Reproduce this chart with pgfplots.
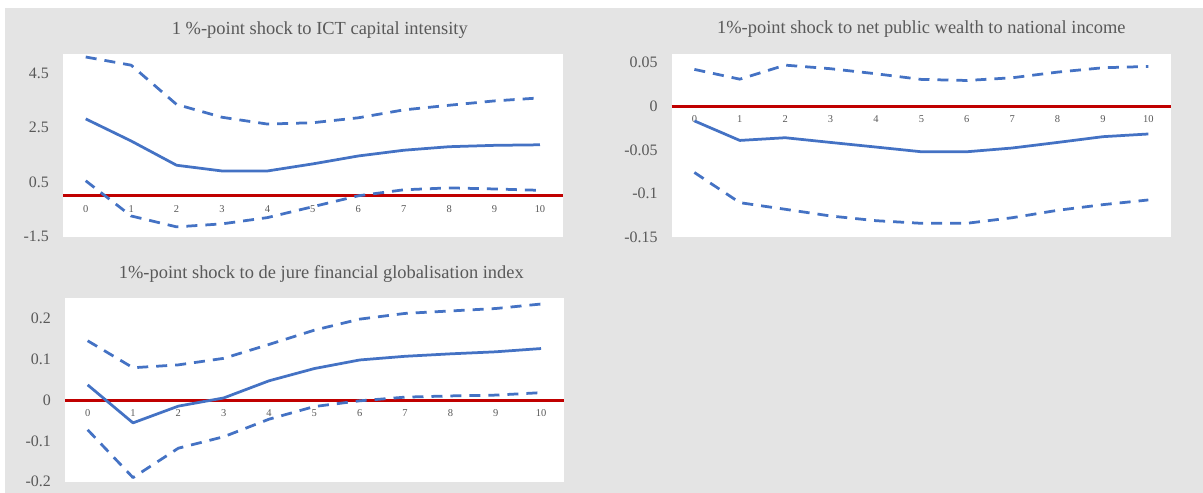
\documentclass[border=0pt]{standalone}
\usepackage{pgfplots}
\pgfplotsset{compat=1.18}
\usepackage{fontspec}
\setmainfont{Liberation Serif}
\definecolor{bg}{RGB}{228,228,228}
\definecolor{txt}{RGB}{89,89,89}
\definecolor{ublue}{RGB}{68,114,196}
\definecolor{ured}{RGB}{192,0,0}
\pgfplotsset{irf/.style={
  scale only axis,
  xmin=-0.5, xmax=10.5,
  axis x line=middle, axis y line=left,
  x axis line style={-, draw=ured, line width=3bp},
  y axis line style={draw=none},
  axis background/.style={fill=white, draw=none},
  xtick={0,...,10},
  xticklabels={0,1,2,3,4,5,6,7,8,9,10},
  major tick length=0pt,
  tick style={draw=none},
  hide obscured x ticks=false, hide obscured y ticks=false,
  xticklabel style={font=\fontsize{10.5}{12}\selectfont, text=txt, anchor=center, yshift=-13bp},
  yticklabel style={font=\fontsize{16}{18}\selectfont, text=txt, anchor=east, inner sep=0pt, xshift=-14bp},
  title style={font=\fontsize{18.5}{22}\selectfont, text=txt, anchor=center, at={(0.5,1)}, yshift=18bp},
  est/.style={ublue, solid, no markers, line width=2.75bp, line join=round},
  ci/.style={ublue, no markers, line width=2.75bp, line join=round, dash pattern=on 11bp off 8bp},
}}
\begin{document}
\begin{tikzpicture}[x=1bp,y=1bp]
\fill[white] (0,0) rectangle (1203,493);
\fill[bg] (5,0) rectangle (1203,485);

% Panel 1
\begin{axis}[irf, at={(63bp,256.3bp)}, anchor=south west,
  width=499.7bp, height=182.7bp,
  ymin=-1.5, ymax=5.2,
  ytick={-1.5,0.5,2.5,4.5}, yticklabels={{-1.5},{0.5},{2.5},{4.5}},
  title={1 \%-point shock to ICT capital intensity},
  title style={xshift=7bp}]
\addplot[est] coordinates {(0,2.82)(1,2.01)(2,1.12)(3,0.91)(4,0.91)(5,1.17)(6,1.46)(7,1.67)(8,1.80)(9,1.85)(10,1.87)};
\addplot[ci] coordinates {(0,5.09)(1,4.79)(2,3.35)(3,2.88)(4,2.63)(5,2.68)(6,2.86)(7,3.15)(8,3.32)(9,3.48)(10,3.59)};
\addplot[ci] coordinates {(0,0.55)(1,-0.74)(2,-1.14)(3,-1.03)(4,-0.80)(5,-0.40)(6,0.0)(7,0.22)(8,0.29)(9,0.25)(10,0.20)};
\end{axis}

% Panel 2
\begin{axis}[irf, at={(671.7bp,256bp)}, anchor=south west,
  width=499.3bp, height=183bp,
  ymin=-0.15, ymax=0.06,
  ytick={-0.15,-0.1,-0.05,0,0.05}, yticklabels={{-0.15},{-0.1},{-0.05},{0},{0.05}},
  title={1\%-point shock to net public wealth to national income},
  title style={yshift=1bp}]
\addplot[est] coordinates {(0,-0.0168)(1,-0.0392)(2,-0.0361)(3,-0.0415)(4,-0.0468)(5,-0.0522)(6,-0.0522)(7,-0.0479)(8,-0.0415)(9,-0.0349)(10,-0.0318)};
\addplot[ci] coordinates {(0,0.0423)(1,0.0311)(2,0.0472)(3,0.0431)(4,0.0373)(5,0.0308)(6,0.0296)(7,0.0327)(8,0.0392)(9,0.0442)(10,0.0457)};
\addplot[ci] coordinates {(0,-0.076)(1,-0.1106)(2,-0.1182)(3,-0.1259)(4,-0.1313)(5,-0.1343)(6,-0.1343)(7,-0.1279)(8,-0.1194)(9,-0.1129)(10,-0.1075)};
\end{axis}

% Panel 3
\begin{axis}[irf, at={(65bp,11.3bp)}, anchor=south west,
  width=498.7bp, height=183.8bp,
  ymin=-0.2, ymax=0.25,
  ytick={-0.2,-0.1,0,0.1,0.2}, yticklabels={{-0.2},{-0.1},{0},{0.1},{0.2}},
  title={1\%-point shock to de jure financial globalisation index},
  title style={xshift=7bp}]
\addplot[est] coordinates {(0,0.037)(1,-0.056)(2,-0.015)(3,0.005)(4,0.047)(5,0.077)(6,0.098)(7,0.107)(8,0.113)(9,0.118)(10,0.126)};
\addplot[ci] coordinates {(0,0.145)(1,0.079)(2,0.086)(3,0.102)(4,0.136)(5,0.171)(6,0.198)(7,0.212)(8,0.218)(9,0.224)(10,0.235)};
\addplot[ci] coordinates {(0,-0.073)(1,-0.19)(2,-0.118)(3,-0.090)(4,-0.047)(5,-0.016)(6,-0.002)(7,0.007)(8,0.010)(9,0.012)(10,0.018)};
\end{axis}
\end{tikzpicture}
\end{document}
